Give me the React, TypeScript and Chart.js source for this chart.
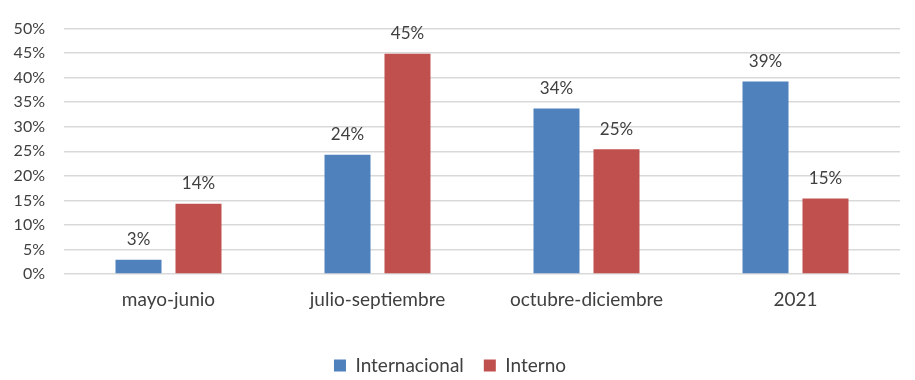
import React, { useEffect, useRef } from "react";
import { Chart, registerables } from "chart.js";

Chart.register(...registerables);

const categories = ["mayo-junio", "julio-septiembre", "octubre-diciembre", "2021"];
const internacional = [2.9, 24.3, 33.7, 39.2];
const interno = [14.3, 44.9, 25.4, 15.4];
const yTicks = [0, 5, 10, 15, 20, 25, 30, 35, 40, 45, 50];

const FONT = "Lato, 'Open Sans', sans-serif";
const TEXT = "#404040";

const valueLabels = {
  id: "valueLabels",
  afterDatasetsDraw(chart: any) {
    const ctx = chart.ctx;
    ctx.save();
    ctx.font = `17px ${FONT}`;
    ctx.fillStyle = TEXT;
    ctx.textAlign = "center";
    ctx.textBaseline = "middle";
    chart.data.datasets.forEach((ds: any, i: number) => {
      const meta = chart.getDatasetMeta(i);
      meta.data.forEach((bar: any, j: number) => {
        ctx.fillText(Math.round(ds.data[j]) + "%", bar.x, bar.y - 20);
      });
    });
    ctx.restore();
  },
};

export default function App() {
  const ref = useRef<HTMLCanvasElement | null>(null);
  useEffect(() => {
    if (!ref.current) return;
    const chart = new Chart(ref.current, {
      type: "bar",
      data: {
        labels: categories,
        datasets: [
          { label: "Internacional", data: internacional, backgroundColor: "#4F81BD" },
          { label: "Interno", data: interno, backgroundColor: "#C0504D" },
        ],
      },
      options: {
        animation: false,
        responsive: false,
        maintainAspectRatio: false,
        categoryPercentage: 0.574,
        barPercentage: 0.767,
        layout: { padding: { top: 14, right: 15, bottom: -5, left: 0 } },
        plugins: {
          tooltip: { enabled: false },
          legend: {
            position: "bottom",
            labels: {
              font: { family: FONT, size: 19 },
              color: TEXT,
              boxWidth: 12,
              boxHeight: 12,
              padding: 20,
            },
          },
        },
        scales: {
          x: {
            grid: { display: false, drawTicks: false },
            border: { display: false },
            ticks: { font: { family: FONT, size: 19 }, color: TEXT, padding: 14 },
            afterFit(scale: any) {
              scale.height = 62;
            },
          },
          y: {
            min: 0,
            max: 50,
            afterBuildTicks(scale: any) {
              scale.ticks = yTicks.map((v) => ({ value: v }));
            },
            grid: { color: "#D9D9D9", lineWidth: 1.5, drawTicks: false },
            border: { display: false },
            ticks: {
              font: { family: FONT, size: 16 },
              color: TEXT,
              padding: 19,
              callback: (v: any) => v + "%",
            },
            afterFit(scale: any) {
              scale.width = 64;
            },
          },
        },
      },
      plugins: [valueLabels],
    });
    return () => chart.destroy();
  }, []);
  return (
    <div style={{ position: "fixed", left: 0, top: 0, width: 915, height: 380, background: "#fff" }}>
      <canvas ref={ref} width={915} height={380} />
    </div>
  );
}
